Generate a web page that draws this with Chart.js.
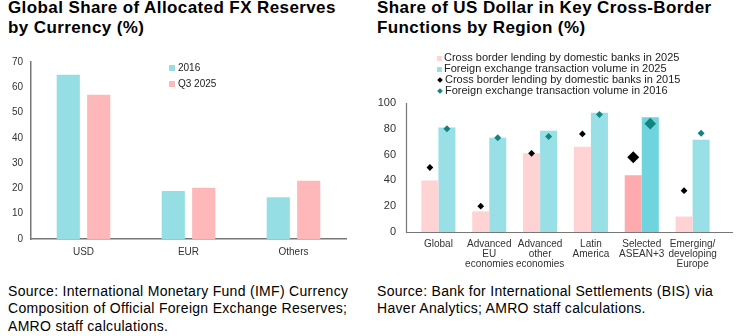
<!DOCTYPE html>
<html>
<head>
<meta charset="utf-8">
<script src="https://cdn.jsdelivr.net/npm/chart.js@4.4.1/dist/chart.umd.min.js"></script>
<style>
  html, body { margin:0; padding:0; background:#fff; width:737px; height:336px; overflow:hidden; font-family:"Liberation Sans", Arial, sans-serif; color:#000; }
  .title { position:absolute; font-weight:bold; font-size:17px; line-height:19.5px; letter-spacing:0.4px; }
  .src { position:absolute; font-size:14px; line-height:17.3px; letter-spacing:0.3px; }
  .cv { position:absolute; }
  .leg { position:absolute; font-size:10px; color:#222; }
  .leg div { white-space:nowrap; position:relative; }
  .sq { display:inline-block; vertical-align:middle; }
  .dm { display:inline-block; vertical-align:middle; transform:rotate(45deg); }
</style>
</head>
<body>
<div class="title" style="left:8px; top:-2px;">Global Share of Allocated FX Reserves<br>by Currency (%)</div>
<div class="title" style="left:377px; top:-2px;">Share of US Dollar in Key Cross-Border<br>Functions by Region (%)</div>

<div class="cv" style="left:0px; top:40px; width:370px; height:230px;"><canvas id="c1" width="370" height="230"></canvas></div>
<div class="cv" style="left:370px; top:40px; width:367px; height:230px;"><canvas id="c2" width="367" height="230"></canvas></div>

<div class="leg" id="leg1" style="left:169px; top:60px; line-height:15.5px;"></div>
<div class="leg" id="leg2" style="left:437px; top:52px; line-height:11px; font-size:11px;"></div>

<div class="src" style="left:8px; top:283px;">Source: International Monetary Fund (IMF) Currency<br>Composition of Official Foreign Exchange Reserves;<br>AMRO staff calculations.</div>
<div class="src" style="left:377px; top:283px;">Source: Bank for International Settlements (BIS) via<br>Haver Analytics; AMRO staff calculations.</div>

<script>
// ---- Chart 1 data ----
const currencies = ["USD", "EUR", "Others"];
const share2016 = [65, 19, 16.5];
const shareQ32025 = [57, 20.3, 23];
const ticks1 = [0, 10, 20, 30, 40, 50, 60, 70];

// ---- Chart 2 data ----
const regions = [["Global"], ["Advanced", "EU", "economies"], ["Advanced", "other", "economies"], ["Latin", "America"], ["Selected", "ASEAN+3"], ["Emerging/", "developing", "Europe"]];
const lending2025 = [40, 16, 61, 66, 44, 12];
const fxVolume2025 = [81, 73, 78.5, 92.5, 89, 71.5];
const lending2015 = [50, 20, 61, 76, 58, 32];
const fxVolume2016 = [80, 73, 74, 91, 84, 76.5];
const ticks2 = [0, 20, 40, 60, 80, 100];
const legendLabels2 = ["Cross border lending by domestic banks in 2025", "Foreign exchange transaction volume in 2025", "Cross border lending by domestic banks in 2015", "Foreign exchange transaction volume in 2016"];
const highlightIndex = 4;

const FONT = "'Liberation Sans', Arial, sans-serif";
const CYAN = "#94dee4", PINK = "#ffb8ba";
const PINK2 = "#ffd2d4", CYAN2 = "#98e0e6", PINK_HI = "#ffaaae", CYAN_HI = "#6fd4dd";
const TEAL = "#12847f", BLACK = "#000";
const AXIS = "#777";

function fixWidth(w) { return function (s) { s.width = w; }; }
function fixHeight(h) { return function (s) { s.height = h; }; }

// ---- Chart 1 ----
new Chart(document.getElementById("c1"), {
  type: "bar",
  data: {
    labels: currencies,
    datasets: [
      { label: "2016", data: share2016, backgroundColor: CYAN },
      { label: "Q3 2025", data: shareQ32025, backgroundColor: PINK }
    ]
  },
  options: {
    responsive: false, animation: false,
    layout: { padding: { left: 0, right: 24, top: 22, bottom: 0 } },
    plugins: { legend: { display: false }, tooltip: { enabled: false } },
    datasets: { bar: { categoryPercentage: 0.58, barPercentage: 0.76 } },
    scales: {
      x: {
        grid: { display: false, drawTicks: false },
        border: { display: true, color: AXIS, width: 1.5 },
        ticks: { font: { family: FONT, size: 10 }, color: "#333", padding: 7 },
        afterFit: fixHeight(31)
      },
      y: {
        min: 0, max: 70,
        afterBuildTicks: function (s) { s.ticks = ticks1.map(v => ({ value: v })); },
        grid: { display: false, drawTicks: false },
        border: { display: true, color: AXIS, width: 1.5 },
        ticks: { font: { family: FONT, size: 10 }, color: "#333", padding: 8 },
        afterFit: fixWidth(31)
      }
    }
  }
});

// plugin: place diamonds over their bars, draw axis lines set slightly apart from the category band
const AXIS_GAP = 7;
const alignPoints = {
  id: "alignPoints",
  afterDatasetsUpdate(chart) {
    const m0 = chart.getDatasetMeta(0), m1 = chart.getDatasetMeta(1);
    const m2 = chart.getDatasetMeta(2), m3 = chart.getDatasetMeta(3);
    m2.data.forEach((p, i) => { p.x = m0.data[i].x; });
    m3.data.forEach((p, i) => { p.x = m1.data[i].x; });
  },
  afterDraw(chart) {
    const ctx = chart.ctx, a = chart.chartArea;
    const x0 = a.left - AXIS_GAP;
    ctx.save();
    ctx.strokeStyle = AXIS; ctx.lineWidth = 1.2;
    ctx.beginPath();
    ctx.moveTo(x0 + 0.5, a.top);
    ctx.lineTo(x0 + 0.5, a.bottom + 0.5);
    ctx.lineTo(chart.width - 4, a.bottom + 0.5);
    ctx.stroke();
    ctx.restore();
  }
};

const pinkCols = lending2025.map((_, i) => i === highlightIndex ? PINK_HI : PINK2);
const cyanCols = fxVolume2025.map((_, i) => i === highlightIndex ? CYAN_HI : CYAN2);
const radBlack = lending2015.map((_, i) => i === highlightIndex ? 6 : 3.4);
const radTeal = fxVolume2016.map((_, i) => i === highlightIndex ? 5.8 : 3.5);

new Chart(document.getElementById("c2"), {
  type: "bar",
  data: {
    labels: regions,
    datasets: [
      { label: legendLabels2[0], data: lending2025, backgroundColor: pinkCols, order: 2 },
      { label: legendLabels2[1], data: fxVolume2025, backgroundColor: cyanCols, order: 2 },
      { type: "line", label: legendLabels2[2], data: lending2015, showLine: false, pointStyle: "rectRot", pointRadius: radBlack, pointBackgroundColor: BLACK, pointBorderColor: BLACK, pointBorderWidth: 0, order: 0 },
      { type: "line", label: legendLabels2[3], data: fxVolume2016, showLine: false, pointStyle: "rectRot", pointRadius: radTeal, pointBackgroundColor: TEAL, pointBorderColor: TEAL, pointBorderWidth: 0, order: 0 }
    ]
  },
  plugins: [alignPoints],
  options: {
    responsive: false, animation: false,
    layout: { padding: { left: 0, right: 19, top: 63, bottom: 0 } },
    plugins: { legend: { display: false }, tooltip: { enabled: false } },
    datasets: { bar: { categoryPercentage: 0.67, barPercentage: 1.0 } },
    scales: {
      x: {
        grid: { display: false, drawTicks: false },
        border: { display: false },
        ticks: { font: { family: FONT, size: 10, lineHeight: 1.0 }, color: "#333", padding: 7, maxRotation: 0, autoSkip: false },
        afterFit: fixHeight(38)
      },
      y: {
        min: 0, max: 100,
        afterBuildTicks: function (s) { s.ticks = ticks2.map(v => ({ value: v })); },
        grid: { display: false, drawTicks: false },
        border: { display: false },
        ticks: { font: { family: FONT, size: 11 }, color: "#333", padding: 17 },
        afterFit: fixWidth(43)
      }
    }
  }
});

// ---- HTML legends ----
function legendRows(el, items) {
  items.forEach(it => {
    const row = document.createElement("div");
    const mk = document.createElement("span");
    mk.className = it.shape === "diamond" ? "dm" : "sq";
    mk.style.width = it.size + "px"; mk.style.height = it.size + "px";
    mk.style.background = it.color;
    mk.style.marginRight = it.gap + "px";
    mk.style.marginLeft = it.shape === "diamond" ? "1px" : "0px";
    row.appendChild(mk);
    row.appendChild(document.createTextNode(it.text));
    el.appendChild(row);
  });
}
legendRows(document.getElementById("leg1"), [
  { text: "2016", color: CYAN, shape: "square", size: 6, gap: 3 },
  { text: "Q3 2025", color: PINK, shape: "square", size: 6, gap: 3 }
]);
legendRows(document.getElementById("leg2"), [
  { text: legendLabels2[0], color: PINK2, shape: "square", size: 5, gap: 2 },
  { text: legendLabels2[1], color: CYAN2, shape: "square", size: 5, gap: 2 },
  { text: legendLabels2[2], color: BLACK, shape: "diamond", size: 4, gap: 3 },
  { text: legendLabels2[3], color: TEAL, shape: "diamond", size: 4, gap: 3 }
]);
</script>
</body>
</html>
